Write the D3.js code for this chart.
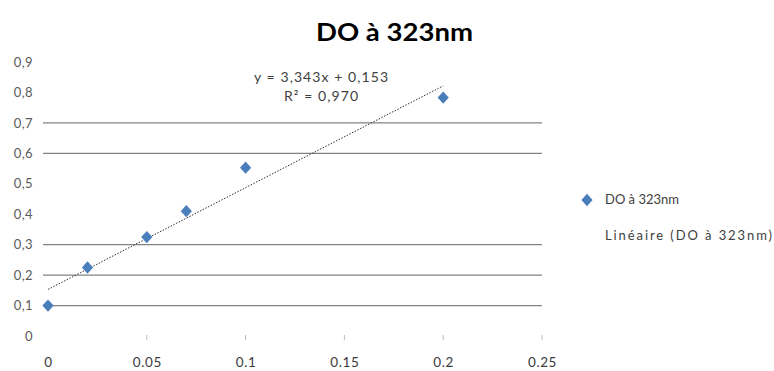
<!DOCTYPE html>
<html>
<head>
<meta charset="utf-8">
<script src="https://cdn.jsdelivr.net/npm/d3@7/dist/d3.min.js"></script>
<style>
  html, body { margin: 0; padding: 0; background: #fff; }
  svg { display: block; }
</style>
</head>
<body>
<svg id="chart" width="774" height="371"></svg>
<script>
// Absorbance at 323 nm versus concentration
const concentrations = [0, 0.02, 0.05, 0.07, 0.1, 0.2];
const absorbances = [0.1, 0.225, 0.325, 0.41, 0.553, 0.783];

// Linear fit reported on the chart
const fitSlope = 3.343;
const fitIntercept = 0.153;
const fitR2 = 0.970;

const xTicks = [0, 0.05, 0.1, 0.15, 0.2, 0.25];
const yTicks = [0, 0.1, 0.2, 0.3, 0.4, 0.5, 0.6, 0.7, 0.8, 0.9];
const gridValues = [0.1, 0.2, 0.3, 0.6, 0.7];

const titleText = "DO à 323nm";
const seriesName = "DO à 323nm";
const fitName = "Linéaire (DO à 323nm)";

const svg = d3.select("#chart");
const fontFamily = "Lato, 'Open Sans', sans-serif";
const frFormat = v => String(v).replace(".", ",");

const x = d3.scaleLinear().domain([0, 0.25]).range([48, 542]);
const y = d3.scaleLinear().domain([0, 0.9]).range([336, 62]);

// Title
svg.append("text")
  .attr("x", 316).attr("y", 41)
  .attr("font-family", fontFamily)
  .attr("font-weight", "bold")
  .attr("font-size", 25)
  .attr("textLength", 157)
  .attr("lengthAdjust", "spacingAndGlyphs")
  .attr("fill", "#000")
  .text(titleText);

// Horizontal gridlines
svg.append("g").selectAll("line").data(gridValues).join("line")
  .attr("x1", 43).attr("x2", x(0.25))
  .attr("y1", d => y(d)).attr("y2", d => y(d))
  .attr("stroke", "#828282").attr("stroke-width", 1.2);

// Y axis labels
const yAxis = d3.axisLeft(y).tickValues(yTicks).tickFormat(frFormat).tickSize(0).tickPadding(0);
const gy = svg.append("g").attr("transform", "translate(33,0)").call(yAxis);
gy.select(".domain").remove();
gy.selectAll("text")
  .attr("font-family", fontFamily).attr("font-size", 13)
  .attr("letter-spacing", 0.4)
  .attr("fill", "#5a5a5a");

// X axis: short tick marks and labels
const xAxis = d3.axisBottom(x).tickValues(xTicks).tickFormat(d => String(d)).tickSize(0).tickPadding(0);
const gx = svg.append("g").attr("transform", "translate(0,367)").call(xAxis);
gx.select(".domain").remove();
gx.selectAll("text")
  .attr("dy", 0)
  .attr("font-family", fontFamily).attr("font-size", 13.5)
  .attr("letter-spacing", 0.6)
  .attr("fill", "#3a3a3a");

svg.append("g").selectAll("line").data(xTicks.filter(d => d > 0)).join("line")
  .attr("x1", d => x(d)).attr("x2", d => x(d))
  .attr("y1", y(0) - 1).attr("y2", y(0) + 4)
  .attr("stroke", "#bbbbbb").attr("stroke-width", 1);

// Trend line from the fitted equation
const fitX = [0, d3.max(concentrations)];
svg.append("path")
  .datum(fitX)
  .attr("d", d3.line().x(d => x(d)).y(d => y(fitIntercept + fitSlope * d)))
  .attr("fill", "none")
  .attr("stroke", "#333")
  .attr("stroke-width", 1)
  .attr("stroke-dasharray", "1.5,1.5");

// Data points
const diamond = d3.symbol().type(d3.symbolDiamond2).size(80);
svg.append("g").selectAll("path").data(concentrations).join("path")
  .attr("transform", (d, i) => `translate(${x(d)},${y(absorbances[i])}) scale(1,1.1)`)
  .attr("d", diamond)
  .attr("fill", "#4a7ebb");

// Equation label
svg.append("text")
  .attr("x", 254).attr("y", 82)
  .attr("font-family", fontFamily).attr("font-size", 14)
  .attr("textLength", 134).attr("lengthAdjust", "spacing")
  .attr("fill", "#404040")
  .text(`y = ${frFormat(fitSlope)}x + ${frFormat(fitIntercept)}`);
svg.append("text")
  .attr("x", 284).attr("y", 101)
  .attr("font-family", fontFamily).attr("font-size", 14)
  .attr("textLength", 74).attr("lengthAdjust", "spacing")
  .attr("fill", "#404040")
  .text(`R² = ${frFormat(fitR2.toFixed(3))}`);

// Legend
svg.append("path")
  .attr("transform", "translate(587,200) scale(1,1.1)")
  .attr("d", diamond)
  .attr("fill", "#4a7ebb");
svg.append("text")
  .attr("x", 605).attr("y", 204)
  .attr("font-family", fontFamily).attr("font-size", 13)
  .attr("fill", "#404040")
  .text(seriesName);
svg.append("text")
  .attr("x", 605).attr("y", 240)
  .attr("font-family", fontFamily).attr("font-size", 13)
  .attr("textLength", 167).attr("lengthAdjust", "spacing")
  .attr("fill", "#404040")
  .text(fitName);
</script>
</body>
</html>
